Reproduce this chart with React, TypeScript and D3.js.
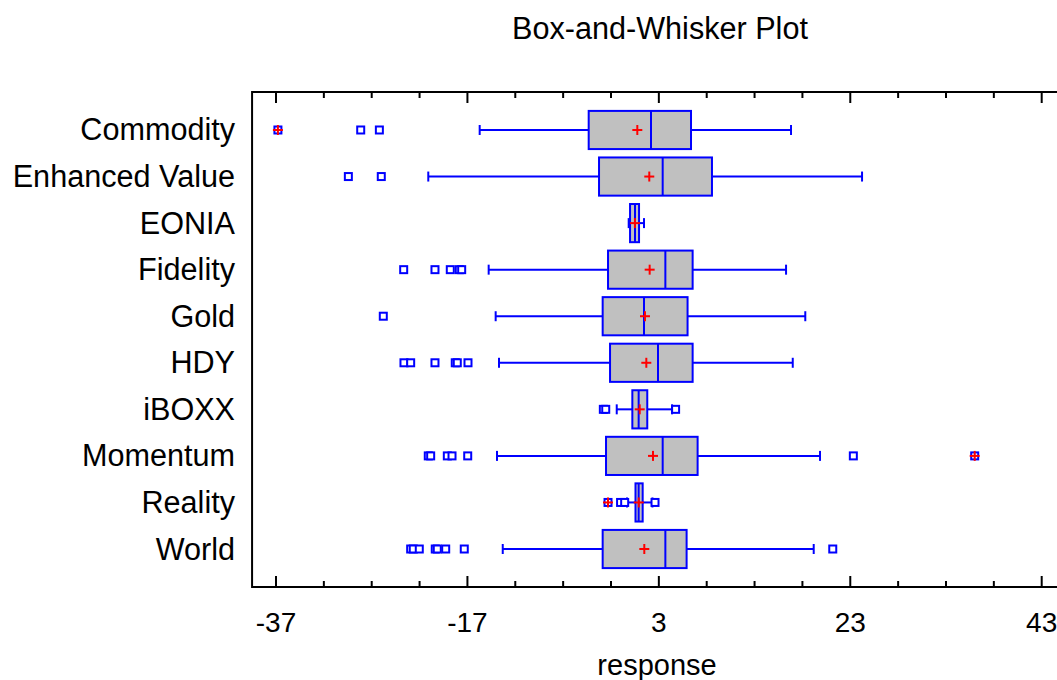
import React from "react";
import * as d3 from "d3";

const categories = ["Commodity", "Enhanced Value", "EONIA", "Fidelity", "Gold", "HDY", "iBOXX", "Momentum", "Reality", "World"];
const whiskerLo = [-15.72, -21.09, -0.15, -14.78, -14.05, -13.7, -1.4, -13.91, -0.33, -13.31];
const q1 = [-4.33, -3.25, -0.01, -2.31, -2.87, -2.1, 0.23, -2.52, 0.56, -2.87];
const medians = [2.18, 3.4, 0.51, 3.68, 1.45, 2.91, 0.89, 3.4, 0.89, 3.68];
const q3 = [6.36, 8.55, 0.93, 6.53, 6.0, 6.53, 1.79, 7.05, 1.31, 5.9];
const whiskerHi = [16.81, 24.23, 1.45, 16.29, 18.3, 16.99, 4.38, 19.84, 2.33, 19.18];
const means = [0.75, 2.0, 0.5, 2.04, 1.55, 1.69, 1.0, 2.39, 0.9, 1.48];
const outliers = [
  [-36.8, -28.15, -26.2],
  [-29.44, -26.0],
  [],
  [-23.66, -20.39, -18.79, -17.85, -17.6],
  [-25.79],
  [-23.63, -22.93, -20.39, -18.27, -18.06, -16.94],
  [-2.8, -2.55, 4.75],
  [-21.09, -20.84, -19.1, -18.61, -16.97, 23.32, 36.0],
  [-2.31, -1.0, -0.57, 2.6],
  [-22.93, -22.66, -22.03, -20.36, -20.15, -19.27, -17.33, 21.17],
];
const farOutliers = [[-36.8], [], [], [], [], [], [], [36.0], [-2.31], []];
const majorTicks = [-37, -17, 3, 23, 43];
const minorTicks = d3.range(-37, 46, 5);

export default function App() {
  const W = 1057, H = 680;
  const x = d3.scaleLinear().domain([-37, 43]).range([276, 1041.7]);
  const top = 92, bottom = 587;
  const left = x(-39.5);
  const y = d3.scalePoint<string>().domain(categories).range([top, bottom]).padding(0.816);
  const boxH = y.step() * 0.82;
  const blue = "#0000ff";
  const red = "#ff0000";
  const font = "'Liberation Sans', Arial, sans-serif";
  return (
    <div style={{ position: "absolute", left: 0, top: 0, width: W, height: H, overflow: "hidden", background: "#fff" }}>
      <svg width={W} height={H} style={{ display: "block" }} fontFamily={font}>
        <text x={660} y={38.5} fontSize={30.6} textAnchor="middle" fill="#000">Box-and-Whisker Plot</text>
        {/* frame: right edge lies beyond the picture */}
        <g stroke="#000" strokeWidth={2}>
          <line x1={left} x2={W} y1={top} y2={top} />
          <line x1={left} x2={W} y1={bottom} y2={bottom} />
          <line x1={left} x2={left} y1={top - 1} y2={bottom + 1} />
        </g>
        {minorTicks.map((t) => {
          const major = majorTicks.includes(t);
          const len = major ? 11 : 6;
          return (
            <g key={"t" + t}>
              <line x1={x(t)} x2={x(t)} y1={top} y2={top + len} stroke="#000" strokeWidth={2} />
              <line x1={x(t)} x2={x(t)} y1={bottom} y2={bottom - len} stroke="#000" strokeWidth={2} />
            </g>
          );
        })}
        {majorTicks.map((t) => (
          <text key={"l" + t} x={x(t)} y={632} fontSize={28} textAnchor="middle" fill="#000">{t}</text>
        ))}
        <text x={657} y={675} fontSize={29} textAnchor="middle" fill="#000">response</text>
        {categories.map((c, i) => {
          const cy = y(c) as number;
          return (
            <g key={c}>
              <text x={235} y={cy + 10.5} fontSize={30.6} textAnchor="end" fill="#000">{c}</text>
              <line x1={x(whiskerLo[i])} x2={x(q1[i])} y1={cy} y2={cy} stroke={blue} strokeWidth={2} />
              <line x1={x(q3[i])} x2={x(whiskerHi[i])} y1={cy} y2={cy} stroke={blue} strokeWidth={2} />
              <line x1={x(whiskerLo[i])} x2={x(whiskerLo[i])} y1={cy - 5} y2={cy + 5} stroke={blue} strokeWidth={2} />
              <line x1={x(whiskerHi[i])} x2={x(whiskerHi[i])} y1={cy - 5} y2={cy + 5} stroke={blue} strokeWidth={2} />
              <rect x={x(q1[i])} y={cy - boxH / 2} width={x(q3[i]) - x(q1[i])} height={boxH} fill="#c0c0c0" stroke={blue} strokeWidth={2} />
              <line x1={x(medians[i])} x2={x(medians[i])} y1={cy - boxH / 2} y2={cy + boxH / 2} stroke={blue} strokeWidth={2} />
              <g stroke={red} strokeWidth={2}>
                <line x1={x(means[i]) - 5} x2={x(means[i]) + 5} y1={cy} y2={cy} />
                <line x1={x(means[i])} x2={x(means[i])} y1={cy - 5} y2={cy + 5} />
              </g>
              {outliers[i].map((o, k) => (
                <rect key={k} x={x(o) - 3.5} y={cy - 3.5} width={7} height={7} fill="#fff" stroke={blue} strokeWidth={2} />
              ))}
              {farOutliers[i].map((o, k) => (
                <g key={"f" + k} stroke={red} strokeWidth={2}>
                  <line x1={x(o) - 5} x2={x(o) + 5} y1={cy} y2={cy} />
                  <line x1={x(o)} x2={x(o)} y1={cy - 5} y2={cy + 5} />
                </g>
              ))}
            </g>
          );
        })}
      </svg>
    </div>
  );
}
